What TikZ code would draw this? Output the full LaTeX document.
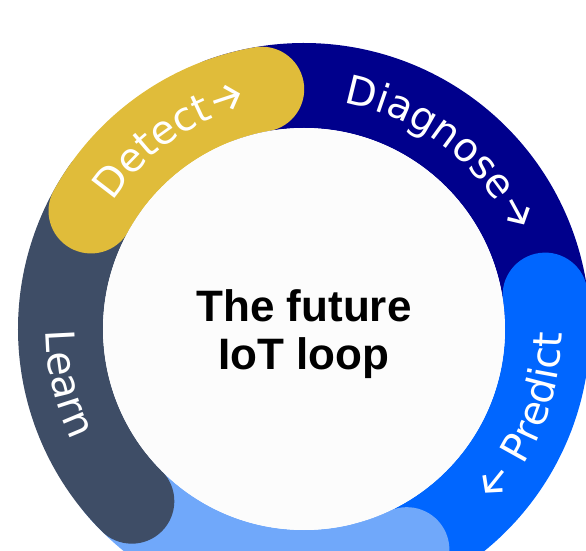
\documentclass[tikz,border=0pt]{standalone}
\usepackage{fontspec}
\usepackage{xcolor}
\usepackage{tikz}
\usetikzlibrary{decorations.text}
\newfontfamily\ringfont{DejaVu Sans}
\newfontfamily\titlefont{Liberation Sans}
\newfontfamily\arrowfont{Fira Sans}
\definecolor{detectyellow}{HTML}{E0BC3A}
\definecolor{diagnosenavy}{HTML}{00008C}
\definecolor{predictblue}{HTML}{0066FF}
\definecolor{actblue}{HTML}{70A8FA}
\definecolor{learnslate}{HTML}{3E4D66}
\definecolor{innerwhite}{HTML}{FCFCFC}
\newcommand{\ringfmt}{\ringfont\fontsize{40}{48}\selectfont\color{white}}
\newcommand{\arrowfmt}{\arrowfont\fontsize{42}{48}\selectfont\color{white}}
\tikzset{
		segment/.style={line width=85pt, line cap=round},
		ringlabel/.style={decorate, decoration={text along path, text align=center,
				text={#1}}}
	}

\begin{document}
\begin{tikzpicture}[x=1pt,y=1pt]
          \useasboundingbox (-304,-222) rectangle (282,329);
          \coordinate (O) at (0,0);

          % ring, each piece laid over the one before it
          \draw[segment,diagnosenavy] (110:243.5) arc[start angle=110,end angle=-2,radius=243.5];
          \draw[segment,predictblue] (8:243.5) arc[start angle=8,end angle=-75,radius=243.5];
          \draw[segment,actblue] (-65:243.5) arc[start angle=-65,end angle=-140,radius=243.5];
          \draw[segment,learnslate] (225:243.5) arc[start angle=225,end angle=145,radius=243.5];
          \draw[segment,detectyellow] (151:243.5) arc[start angle=151,end angle=100,radius=243.5];

          \fill[innerwhite] (O) circle[radius=201];

          \path[ringlabel={|\ringfmt|Detect|\arrowfmt|→}] (170:229.5) arc[start angle=170,end angle=80,radius=229.5];
          \path[ringlabel={|\ringfmt|Diagnose|\arrowfmt|→}] (100:229.5) arc[start angle=100,end angle=4,radius=229.5];
          \path[ringlabel={|\arrowfmt|←|\ringfmt| Predict}] (-67:258) arc[start angle=-67,end angle=23,radius=258];
          \path[ringlabel={|\ringfmt|Learn}] (150:258) arc[start angle=150,end angle=236,radius=258];

          \node[rotate=-20,anchor=base west,inner sep=0,font=\arrowfmt] (bottomarrow) at (-110:258) {←};

          \node[align=center,inner sep=0,
            font=\titlefont\bfseries\fontsize{44}{48}\selectfont] (title) at (O) [yshift=-5pt] {The future\\IoT loop};

          \end{tikzpicture}
\end{document}
